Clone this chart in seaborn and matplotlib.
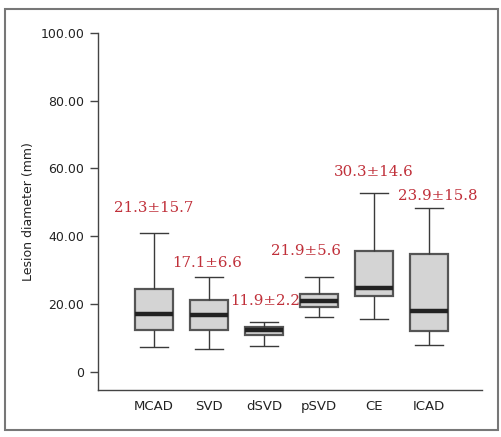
import numpy as np
import pandas as pd
import matplotlib
matplotlib.use("Agg")
import matplotlib.pyplot as plt
from matplotlib.patches import Rectangle
import seaborn as sns

# groups and five-number summaries (min, Q1, median, Q3, max)
groups = ["MCAD", "SVD", "dSVD", "pSVD", "CE", "ICAD"]
mcad = [7.5, 12.4, 17.2, 24.6, 40.9]
svd = [6.7, 12.5, 16.9, 21.1, 27.9]
dsvd = [7.6, 10.9, 12.5, 13.3, 14.8]
psvd = [16.3, 19.1, 21.0, 22.9, 27.9]
ce = [15.7, 22.4, 24.7, 35.7, 52.9]
icad = [8.1, 12.1, 17.9, 34.9, 48.4]

# mean ± sd labels
labels = ["21.3±15.7", "17.1±6.6", "11.9±2.2", "21.9±5.6", "30.3±14.6", "23.9±15.8"]
label_x = [0.0, 0.97, 2.02, 2.77, 4.0, 5.17]
label_y = [48.4, 32.1, 20.9, 35.8, 58.9, 51.9]

yticks = [0, 20, 40, 60, 80, 100]
ytick_labels = ["0", "20.00", "40.00", "60.00", "80.00", "100.00"]

values = [mcad, svd, dsvd, psvd, ce, icad]
df = pd.DataFrame({
    "group": np.repeat(groups, 5),
    "diameter": np.concatenate(values),
})

fig = plt.figure(figsize=(5.02, 4.37), dpi=100)
ax = fig.add_axes([0.1946, 0.1076, 0.765, 0.8176])

sns.boxplot(data=df, x="group", y="diameter", order=groups, ax=ax,
            whis=(0, 100), width=0.69, fill=True, color="#d4d4d4",
            linecolor="#3a3a3a", linewidth=1.0, showfliers=False,
            boxprops=dict(facecolor="#d4d4d4", edgecolor="#555555", linewidth=1.6),
            medianprops=dict(color="#222222", linewidth=3.2),
            whiskerprops=dict(color="#3a3a3a", linewidth=1.0),
            capprops=dict(color="#3a3a3a", linewidth=1.0),
            capwidths=0.51)

for x, y, t in zip(label_x, label_y, labels):
    ax.text(x, y, t, ha="center", va="center", color="#c0303a",
            fontsize=10.8, family="DejaVu Serif")

ax.set_xlim(-1.02, 5.96)
ax.set_ylim(-5.3, 100)
ax.set_yticks(yticks)
ax.set_yticklabels(ytick_labels)
ax.set_xlabel("")
ax.set_ylabel("Lesion diameter (mm)", fontsize=9, color="#222222", labelpad=4)
ax.tick_params(axis="y", direction="out", length=6, width=1, colors="#444444",
               labelcolor="#222222", labelsize=9)
ax.tick_params(axis="x", length=0, labelsize=9.5, labelcolor="#222222", pad=7)
ax.spines["top"].set_visible(False)
ax.spines["right"].set_visible(False)
ax.spines["left"].set_bounds(-5.3, 100)
for s in ["left", "bottom"]:
    ax.spines[s].set_color("#444444")
    ax.spines[s].set_linewidth(1.0)
ax.set_facecolor("white")

# outer frame around the figure
fig.patches.append(Rectangle((5 / 502, 1 - 430 / 437), 493 / 502, 421 / 437,
                             transform=fig.transFigure, fill=False,
                             edgecolor="#777777", linewidth=1.5))

fig.savefig("out.png", dpi=100)
